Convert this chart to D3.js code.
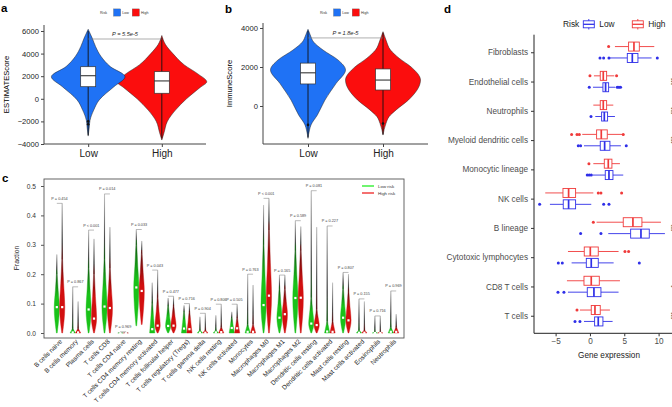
<!DOCTYPE html>
<html><head><meta charset="utf-8">
<script src="https://cdn.jsdelivr.net/npm/d3@7"></script>
<style>body{margin:0;background:#fff} text{font-family:"Liberation Sans",Arial,Helvetica,sans-serif}</style>
</head><body><svg id="chart" width="672" height="407"></svg>
<script>
// ---------------- DATA ----------------
// Panels a & b
const riskGroups = ["Low", "High"];
const estimateTicks = [-4000, -2000, 0, 2000, 4000, 6000];
const immuneTicks = [0, 2000, 4000];
// violin density profiles: [value, relative width]
const estimateLowDensity = [[-3300,0],[-2500,0.03],[-1900,0.05],[-1000,0.15],[-100,0.3],[1070,0.7],[1950,1],[2850,0.6],[3740,0.35],[4630,0.2],[5370,0.11],[6150,0]];
const estimateHighDensity = [[-3650,0],[-3000,0.06],[-2000,0.15],[-1000,0.37],[0,0.67],[1000,1.04],[1500,1.22],[2200,0.98],[3000,0.61],[4000,0.3],[4800,0.1],[5600,0]];
const immuneLowDensity = [[-1660,0],[-1230,0.04],[-970,0.08],[-460,0.25],[300,0.45],[1160,0.75],[1850,1],[2360,0.8],[2870,0.4],[3280,0.15],[3640,0.06],[3930,0]];
const immuneHighDensity = [[-1490,0],[-890,0.08],[-550,0.16],[-200,0.35],[310,0.68],[1330,1],[2000,0.75],[2450,0.43],[2870,0.2],[3380,0.08],[3810,0]];
// boxes: [min, q1, median, q3, max]
const estimateLowBox = [-3200, 1070, 2040, 2840, 6000];
const estimateHighBox = [-3500, 490, 1580, 2400, 5400];
const immuneLowBox = [-1600, 1130, 1700, 2200, 3850];
const immuneHighBox = [-1450, 820, 1330, 1900, 3750];
const estimateLowOutliers = [-2000, -2250];
const estimateHighOutliers = [];
const immuneLowOutliers = [-970];
const immuneHighOutliers = [-900];
const estimateP = "P = 5.5e-5", estimateBracket = 5290;
const immuneP = "P = 1.8e-5", immuneBracket = 3490;

// Panel c
const cellTypes = ["B cells naive","B cells memory","Plasma cells","T cells CD8","T cells CD4 naive","T cells CD4 memory resting","T cells CD4 memory activated","T cells follicular helper","T cells regulatory (Tregs)","T cells gamma delta","NK cells resting","NK cells activated","Monocytes","Macrophages M0","Macrophages M1","Macrophages M2","Dendritic cells resting","Dendritic cells activated","Mast cells resting","Mast cells activated","Eosinophils","Neutrophils"];
const lowMax     = [0.267,0.157,0.350,0.473,0.004,0.352,0.171,0.119,0.094,0.055,0.060,0.072,0.200,0.435,0.197,0.382,0.484,0.364,0.206,0.116,0.058,0.143];
const highMax    = [0.441,0.107,0.320,0.360,0.004,0.313,0.214,0.125,0.100,0.067,0.098,0.098,0.163,0.458,0.197,0.362,0.360,0.171,0.200,0.107,0.058,0.064];
const lowMedian  = [0.088,0.002,0.080,0.090,0.000,0.155,0.013,0.024,0.015,0.001,0.002,0.017,0.004,0.095,0.052,0.119,0.032,0.005,0.052,0.001,0.000,0.004];
const highMedian = [0.088,0.002,0.049,0.085,0.000,0.143,0.025,0.025,0.013,0.001,0.003,0.016,0.004,0.127,0.064,0.120,0.027,0.004,0.043,0.001,0.000,0.004];
const lowBody    = [0.200,0.015,0.220,0.250,0.002,0.300,0.100,0.090,0.070,0.010,0.010,0.050,0.030,0.300,0.150,0.280,0.120,0.040,0.150,0.010,0.003,0.020];
const highBody   = [0.250,0.015,0.200,0.220,0.002,0.270,0.120,0.090,0.070,0.010,0.020,0.050,0.030,0.350,0.150,0.280,0.080,0.040,0.140,0.010,0.003,0.020];
const pValues = ["= 0.454","= 0.867","< 0.001","= 0.014","= 0.969","= 0.033","= 0.043","= 0.477","= 0.716","= 0.904","= 0.806","= 0.505","= 0.763","< 0.001","= 0.165","= 0.589","= 0.081","= 0.227","= 0.807","= 0.155","= 0.716","= 0.969"];
const fractionTicks = [0, 0.1, 0.2, 0.3, 0.4, 0.5];

// Panel d
const dCells = ["Fibroblasts","Endothelial cells","Neutrophils","Myeloid dendritic cells","Monocytic lineage","NK cells","B lineage","Cytotoxic lymphocytes","CD8 T cells","T cells"];
// [whiskerLow, q1, median, q3, whiskerHigh]
const dHighStats = [[3.64,5.63,6.41,7.19,9.37],[0.58,1.50,1.94,2.43,3.54],[0.49,1.50,1.94,2.43,3.40],[-1.12,0.97,1.65,2.52,4.76],[0.49,2.09,2.67,3.20,4.37],[-6.51,-3.93,-3.11,-2.09,0.49],[0.97,4.85,6.26,7.57,10.34],[-3.20,-0.83,0.05,1.21,4.17],[-3.35,-0.87,0.19,1.36,4.37],[-1.46,0.19,0.73,1.50,2.91]];
const dLowStats  = [[2.91,5.44,6.17,6.99,8.98],[0.44,1.89,2.28,2.72,3.69],[0.78,1.70,2.09,2.57,3.64],[-0.87,1.50,2.14,2.91,4.51],[0.34,2.23,2.77,3.35,4.85],[-5.83,-3.89,-3.11,-2.09,0.19],[2.67,5.93,7.43,8.64,10.92],[-2.67,-0.53,0.19,1.21,3.45],[-3.20,-0.39,0.58,1.60,4.17],[-0.87,0.68,1.21,1.89,3.30]];
const dHighOutliers = [[2.72],[0.0,3.88],[],[-2.67,-1.89,-1.55,4.85],[-0.15],[1.21,1.60,4.61],[0.49],[5.10,5.63],[],[-1.89]];
const dLowOutliers  = [[1.46,1.99,2.77,9.81],[-0.10,3.98,4.22,4.46],[0.15],[-1.70,-1.36,5.29],[-0.39,-0.10,0.19],[-7.33,2.00,2.77],[-1.36,1.60],[-4.61,-4.03,7.19],[-4.66,-3.79],[-2.18,-1.46]];
const dStars = ["","***","***","***","","","***","","*","***"];
const dTicks = [-5, 0, 5, 10];

// ---------------- DRAWING ----------------
const svg = d3.select("#chart");
const defs = svg.append("defs");
const BLUE = "#1f72f5", RED = "#fb0d0d";

function panelLabel(t, x, y) {
  svg.append("text").attr("x", x).attr("y", y).attr("font-size", 11.5).attr("font-weight", "bold").text(t);
}

function violinPanel(cfg) {
  const g = svg.append("g");
  const y = d3.scaleLinear().domain(cfg.yDomain).range([144, cfg.top]);
  const x = d3.scalePoint().domain(riskGroups).range(cfg.xRange).padding(0.6);
  const hw = x.step() * 0.5;
  const cols = [BLUE, RED];
  // draw High first so that Low sits on top where they touch
  [1, 0].forEach(k => {
    const grp = riskGroups[k];
    const cx = x(grp);
    const dens = cfg.dens[k];
    const area = d3.area().curve(d3.curveMonotoneY)
      .y(d => y(d[0])).x0(d => cx - d[1] * hw).x1(d => cx + d[1] * hw);
    g.append("path").attr("d", area(dens)).attr("fill", cols[k]).attr("stroke", "#222").attr("stroke-width", 0.5);
  });
  riskGroups.forEach((grp, k) => {
    const cx = x(grp);
    const b = cfg.box[k];
    g.append("line").attr("x1", cx).attr("x2", cx).attr("y1", y(b[0])).attr("y2", y(b[4])).attr("stroke", "#111").attr("stroke-width", 0.9);
    cfg.out[k].forEach(o => g.append("circle").attr("cx", cx).attr("cy", y(o)).attr("r", 1.3).attr("fill", "#111"));
    g.append("rect").attr("x", cx - 7.5).attr("width", 15).attr("y", y(b[3])).attr("height", y(b[1]) - y(b[3]))
      .attr("fill", "#fff").attr("stroke", "#333").attr("stroke-width", 0.7);
    g.append("line").attr("x1", cx - 7.5).attr("x2", cx + 7.5).attr("y1", y(b[2])).attr("y2", y(b[2])).attr("stroke", "#222").attr("stroke-width", 1);
  });
  // axes
  const ya = d3.axisLeft(y).tickValues(cfg.ticks).tickSize(3).tickPadding(2).tickFormat(d3.format("d"));
  const yg = g.append("g").attr("transform", `translate(${cfg.xRange[0]},0)`).call(ya);
  yg.select(".domain").attr("d", `M-0,${y.range()[1]}V144`).attr("stroke", "#444");
  yg.selectAll("text").attr("font-size", 7.6).attr("fill", "#222");
  yg.selectAll(".tick line").attr("stroke", "#444");
  const xa = d3.axisBottom(x).tickSize(3).tickPadding(3);
  const xg = g.append("g").attr("transform", "translate(0,144)").call(xa);
  xg.select(".domain").attr("d", `M${cfg.xRange[0]},0H${cfg.xRange[1]}`).attr("stroke", "#444");
  xg.selectAll("text").attr("font-size", 10).attr("fill", "#222");
  xg.selectAll(".tick line").attr("stroke", "#444");
  // axis title
  g.append("text").attr("transform", `translate(${cfg.titleX},${(144 + cfg.top) / 2}) rotate(-90)`)
    .attr("text-anchor", "middle").attr("font-size", 7.6).text(cfg.title);
  // p bracket
  g.append("line").attr("x1", x("Low")).attr("x2", x("High")).attr("y1", y(cfg.bracket)).attr("y2", y(cfg.bracket))
    .attr("stroke", "#777").attr("stroke-width", 0.6);
  g.append("text").attr("x", (x("Low") + x("High")) / 2).attr("y", y(cfg.bracket) - 3)
    .attr("text-anchor", "middle").attr("font-size", 5.6).attr("font-style", "italic").attr("fill", "#222").text(cfg.p);
  // legend
  const lx = cfg.legendX, ly = 12.5;
  g.append("text").attr("x", lx).attr("y", ly + 1.3).attr("font-size", 3.6).attr("fill", "#333").text("Risk");
  [["Low", BLUE], ["High", RED]].forEach((d, i) => {
    const bx = lx + 13.5 + i * 18.7;
    g.append("rect").attr("x", bx).attr("y", ly - 3.6).attr("width", 7.2).attr("height", 7.2).attr("fill", d[1]).attr("stroke", "#555").attr("stroke-width", 0.3);
    g.append("text").attr("x", bx + 8.8).attr("y", ly + 1.3).attr("font-size", 3.6).attr("fill", "#333").text(d[0]);
  });
}

panelLabel("a", 1, 12);
violinPanel({ yDomain: [-4000, 6530], top: 25, xRange: [44, 206], ticks: estimateTicks,
  dens: [estimateLowDensity, estimateHighDensity], box: [estimateLowBox, estimateHighBox],
  out: [estimateLowOutliers, estimateHighOutliers], title: "ESTIMATEScore", titleX: 9,
  bracket: estimateBracket, p: estimateP, legendX: 100 });
panelLabel("b", 225, 13);
violinPanel({ yDomain: [-1949, 4256], top: 23, xRange: [263, 428], ticks: immuneTicks,
  dens: [immuneLowDensity, immuneHighDensity], box: [immuneLowBox, immuneHighBox],
  out: [immuneLowOutliers, immuneHighOutliers], title: "ImmuneScore", titleX: 232,
  bracket: immuneBracket, p: immuneP, legendX: 320 });

// ---------- Panel c ----------
panelLabel("c", 2, 182);
(function () {
  const g = svg.append("g");
  const y = d3.scaleLinear().domain([0, 0.5]).range([333, 186]);
  const x = d3.scalePoint().domain(cellTypes).range([59.5, 393.5]);
  const W = 2.6, off = 2.7;
  g.append("rect").attr("x", 44).attr("y", 179).attr("width", 360).attr("height", 159)
    .attr("fill", "none").attr("stroke", "#555").attr("stroke-width", 0.9);
  const ya = d3.axisLeft(y).tickValues(fractionTicks).tickSize(3).tickPadding(2).tickFormat(d3.format(".1f"));
  const yg = g.append("g").attr("transform", "translate(41,0)").call(ya);
  yg.select(".domain").remove();
  yg.selectAll("text").attr("font-size", 6.6).attr("fill", "#333");
  yg.selectAll(".tick line").attr("stroke", "#555").attr("transform", "translate(3,0)");
  g.append("text").attr("transform", "translate(19,258) rotate(-90)").attr("text-anchor", "middle")
    .attr("font-size", 6.8).attr("fill", "#222").text("Fraction");

  function shape(med, body, max) {
    if (med < 0.02) return [[0, 1], [body * 0.5, 0.55], [body, 0.15], [body + (max - body) * 0.25, 0.05], [max, 0.02]];
    const lo = Math.max(0, med - (body - med) * 0.9);
    return [[lo, 0.15], [med, 1], [med + (body - med) * 0.5, 0.55], [body, 0.15], [body + (max - body) * 0.3, 0.05], [max, 0.02]];
  }
  cellTypes.forEach((ct, i) => {
    const series = [
      { cx: x(ct) - off, max: lowMax[i], med: lowMedian[i], body: lowBody[i], col: "#19c219", dark: "#0c4d0c" },
      { cx: x(ct) + off, max: highMax[i], med: highMedian[i], body: highBody[i], col: "#d20f0f", dark: "#4d0a0a" }
    ];
    series.forEach((s, k) => {
      const id = `vg${i}_${k}`;
      const frac = s.body / s.max;
      const gr = defs.append("linearGradient").attr("id", id).attr("gradientUnits", "userSpaceOnUse")
        .attr("x1", 0).attr("x2", 0).attr("y1", y(0)).attr("y2", y(s.max));
      gr.append("stop").attr("offset", 0).attr("stop-color", s.col);
      gr.append("stop").attr("offset", frac * 0.6).attr("stop-color", s.col);
      gr.append("stop").attr("offset", Math.min(1, frac * 1.05)).attr("stop-color", s.dark);
      gr.append("stop").attr("offset", Math.min(1, frac + (1 - frac) * 0.3)).attr("stop-color", "#333");
      gr.append("stop").attr("offset", 1).attr("stop-color", "#bbb");
      const area = d3.area().curve(d3.curveMonotoneY)
        .y(d => y(d[0])).x0(d => s.cx - d[1] * W).x1(d => s.cx + d[1] * W);
      g.append("path").attr("d", area(shape(s.med, s.body, s.max))).attr("fill", `url(#${id})`)
        .attr("stroke", `url(#${id})`).attr("stroke-width", 0.4);
      g.append("line").attr("x1", s.cx).attr("x2", s.cx + 0.01).attr("y1", y(s.body)).attr("y2", y(s.max))
        .attr("stroke", `url(#${id})`).attr("stroke-width", 0.7);
      g.append("rect").attr("x", s.cx - 1.1).attr("y", y(s.med) - 1.1).attr("width", 2.2).attr("height", 2.2).attr("fill", "#fff");
    });
    const mx = Math.max(lowMax[i], highMax[i]);
    g.append("line").attr("x1", x(ct) - off).attr("x2", x(ct) + off).attr("y1", y(mx)).attr("y2", y(mx))
      .attr("stroke", "#777").attr("stroke-width", 0.5);
    g.append("text").attr("x", x(ct)).attr("y", y(mx) - 3.5).attr("text-anchor", "middle")
      .attr("font-size", 3.8).attr("fill", "#444").text("P " + pValues[i]);
    g.append("text").attr("transform", `translate(${x(ct) + 3},${342}) rotate(-45)`).attr("text-anchor", "end")
      .attr("font-size", 6.5).attr("fill", "#222").text(ct);
  });
  // legend
  [["Low risk", "#22ee22", 186], ["High risk", "#ee2222", 193]].forEach(d => {
    g.append("line").attr("x1", 362).attr("x2", 374).attr("y1", d[2]).attr("y2", d[2]).attr("stroke", d[1]).attr("stroke-width", 1.3);
    g.append("text").attr("x", 378).attr("y", d[2] + 1.5).attr("font-size", 4.4).attr("fill", "#333").text(d[0]);
  });
})();

// ---------- Panel d ----------
panelLabel("d", 444, 13);
(function () {
  const g = svg.append("g");
  const x = d3.scaleLinear().domain([-8.15, 13.7]).range([534, 684]);
  const y = d3.scalePoint().domain(dCells).range([34.7, 333.3]).padding(0.6);
  const dodge = 5.7, bh = 9;
  const DR = "#f03a3a", DB = "#2f2fe8";
  function box(stats, outs, cy, col) {
    g.append("line").attr("x1", x(stats[0])).attr("x2", x(stats[1])).attr("y1", cy).attr("y2", cy).attr("stroke", col).attr("stroke-width", 0.9);
    g.append("line").attr("x1", x(stats[3])).attr("x2", x(stats[4])).attr("y1", cy).attr("y2", cy).attr("stroke", col).attr("stroke-width", 0.9);
    g.append("rect").attr("x", x(stats[1])).attr("width", x(stats[3]) - x(stats[1])).attr("y", cy - bh / 2).attr("height", bh)
      .attr("fill", "#fff").attr("stroke", col).attr("stroke-width", 0.9);
    g.append("line").attr("x1", x(stats[2])).attr("x2", x(stats[2])).attr("y1", cy - bh / 2).attr("y2", cy + bh / 2).attr("stroke", col).attr("stroke-width", 1.7);
    outs.forEach(o => g.append("circle").attr("cx", x(o)).attr("cy", cy).attr("r", 1.5).attr("fill", col));
  }
  dCells.forEach((c, i) => {
    box(dHighStats[i], dHighOutliers[i], y(c) - dodge, DR);
    box(dLowStats[i], dLowOutliers[i], y(c) + dodge, DB);
    if (dStars[i]) g.append("text").attr("transform", `translate(668.5,${y(c)}) rotate(90)`).attr("text-anchor", "middle")
      .attr("font-size", 6).attr("fill", "#333").text(dStars[i]);
  });
  const ya = d3.axisLeft(y).tickSize(3).tickPadding(3);
  const yg = g.append("g").attr("transform", "translate(534,0)").call(ya);
  yg.select(".domain").attr("d", "M0,34.7V333.3").attr("stroke", "#222");
  yg.selectAll("text").attr("font-size", 8.2).attr("fill", "#4d4d4d");
  yg.selectAll(".tick line").attr("stroke", "#333");
  const xa = d3.axisBottom(x).tickValues(dTicks).tickSize(3).tickPadding(2);
  const xg = g.append("g").attr("transform", "translate(0,333.3)").call(xa);
  xg.select(".domain").attr("d", "M534,0H684").attr("stroke", "#222");
  xg.selectAll("text").attr("font-size", 8.2).attr("fill", "#4d4d4d");
  xg.selectAll(".tick line").attr("stroke", "#333");
  g.append("text").attr("x", 609).attr("y", 358).attr("text-anchor", "middle").attr("font-size", 8.2).attr("fill", "#222").text("Gene expression");
  // legend
  g.append("text").attr("x", 563).attr("y", 27).attr("font-size", 8.4).attr("fill", "#222").text("Risk");
  [["Low", DB, 583.3], ["High", DR, 632.3]].forEach(d => {
    const bx = d[2];
    g.append("line").attr("x1", bx + 5.5).attr("x2", bx + 5.5).attr("y1", 19).attr("y2", 29.5).attr("stroke", d[1]).attr("stroke-width", 0.9);
    g.append("rect").attr("x", bx).attr("y", 20.8).attr("width", 11).attr("height", 7).attr("fill", "#fff").attr("stroke", d[1]).attr("stroke-width", 0.9);
    g.append("line").attr("x1", bx).attr("x2", bx + 11).attr("y1", 24.3).attr("y2", 24.3).attr("stroke", d[1]).attr("stroke-width", 1.3);
    g.append("text").attr("x", bx + 16).attr("y", 27).attr("font-size", 8.4).attr("fill", "#222").text(d[0]);
  });
})();
</script></body></html>
